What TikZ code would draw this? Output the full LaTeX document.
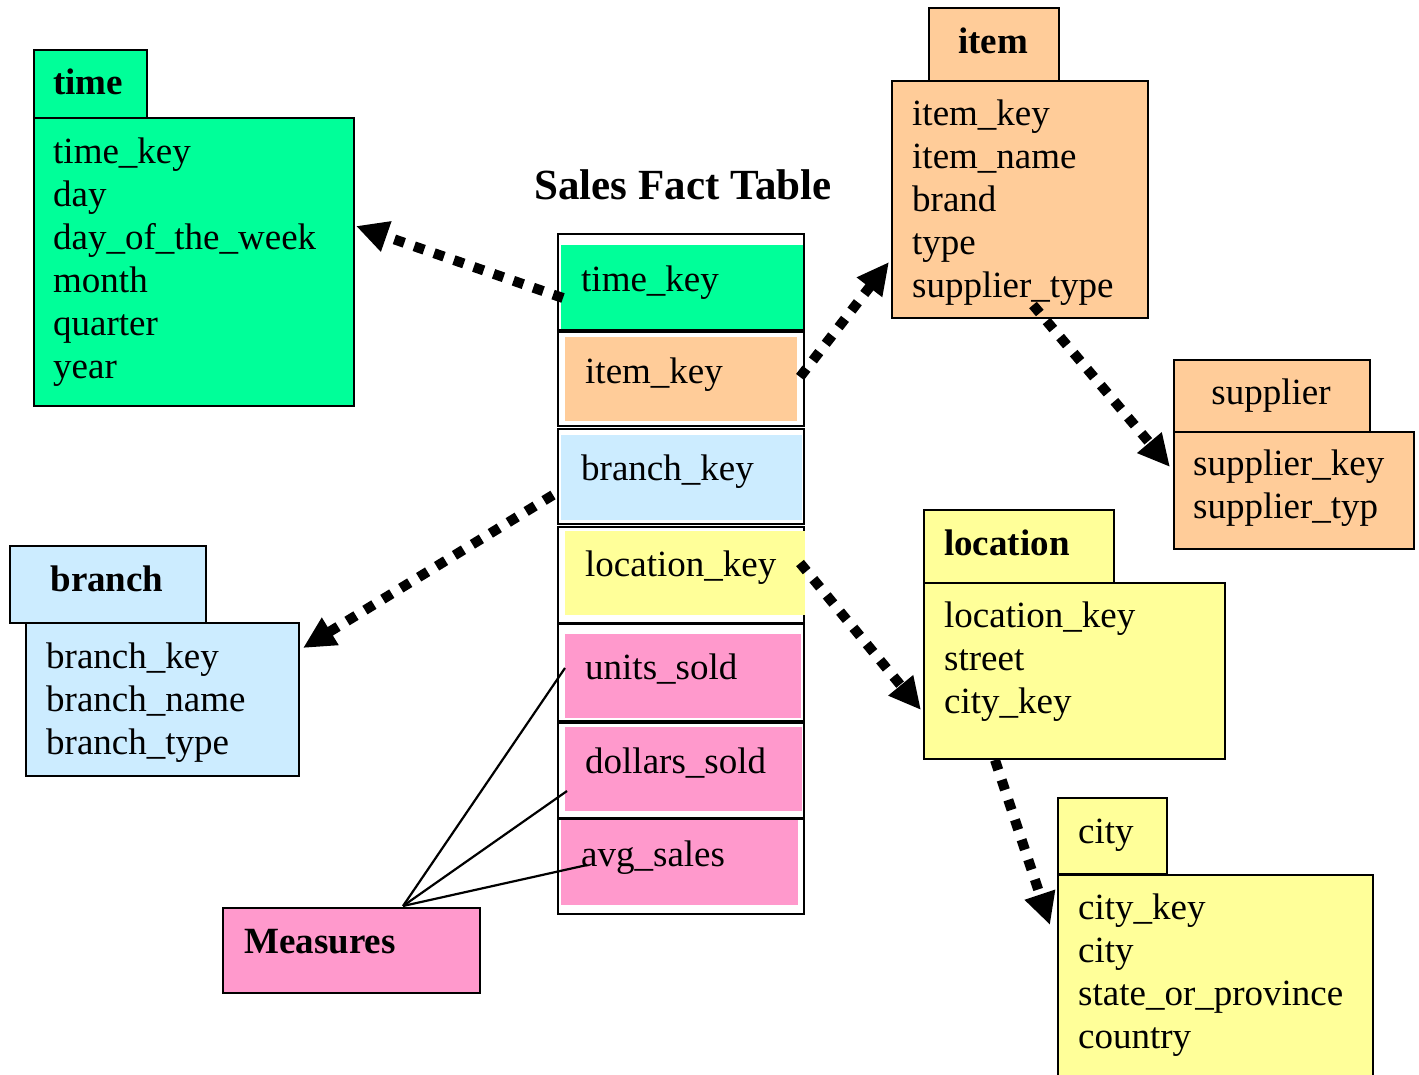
\documentclass[tikz,border=0pt]{standalone}
\usepackage{fontspec}
\setmainfont{Liberation Serif}
\usetikzlibrary{arrows.meta}
\definecolor{cgreen}{HTML}{00FF99}
\definecolor{corange}{HTML}{FFCC99}
\definecolor{cblue}{HTML}{CCECFF}
\definecolor{cyellow}{HTML}{FFFF99}
\definecolor{cpink}{HTML}{FF99CC}
\begin{document}
\begin{tikzpicture}[x=1pt,y=-1pt,
  box/.style={draw=black, line width=1.8pt, anchor=north west, inner sep=0pt},
  cellfill/.style={draw=none, anchor=north west, inner sep=0pt},
  txt/.style={anchor=base west, inner sep=0pt, font=\fontsize{37}{43}\selectfont},
  ttl/.style={anchor=base west, inner sep=0pt, font=\fontsize{37}{43}\selectfont\bfseries},
  fk/.style={line width=10pt, dash pattern=on 10.5pt off 10.5pt, -{Triangle[length=32pt,width=30pt]}},
  meas/.style={line width=2.2pt}]
\useasboundingbox (0,0) rectangle (1419,1074);
\begin{scope}
\clip (0,0) rectangle (1419,1074);

% ---------- time ----------
\node[box, fill=cgreen, minimum width=113pt, minimum height=68pt] (timeT) at (33,49) {};
\node[box, fill=cgreen, minimum width=320pt, minimum height=288pt] (timeB) at (33,117) {};
\node[ttl] (timeTt) at (53,94) {time};
\foreach \t [count=\i] in {time\_key, day, day\_of\_the\_week, month, quarter, year}
  \node[txt] (timeL\i) at (53,{163+43*(\i-1)}) {\t};

% ---------- item ----------
\node[box, fill=corange, minimum width=130pt, minimum height=74pt] (itemT) at (928,7) {};
\node[box, fill=corange, minimum width=256pt, minimum height=237pt] (itemB) at (891,80) {};
\node[ttl, anchor=base] (itemTt) at (993,53) {item};
\foreach \t [count=\i] in {item\_key, item\_name, brand, type, supplier\_type}
  \node[txt] (itemL\i) at (912,{125+43*(\i-1)}) {\t};

% ---------- supplier ----------
\node[box, fill=corange, minimum width=196pt, minimum height=73pt] (supT) at (1173,359) {};
\node[box, fill=corange, minimum width=240pt, minimum height=117pt] (supB) at (1173,431) {};
\node[txt, anchor=base] (supTt) at (1271,404) {supplier};
\foreach \t [count=\i] in {supplier\_key, supplier\_typ}
  \node[txt] (supL\i) at (1193,{475+43*(\i-1)}) {\t};

% ---------- location ----------
\node[box, fill=cyellow, minimum width=190pt, minimum height=73pt] (locT) at (923,509) {};
\node[box, fill=cyellow, minimum width=301pt, minimum height=176pt] (locB) at (923,582) {};
\node[ttl] (locTt) at (944,555) {location};
\foreach \t [count=\i] in {location\_key, street, city\_key}
  \node[txt] (locL\i) at (944,{627+43*(\i-1)}) {\t};

% ---------- city ----------
\node[box, fill=cyellow, minimum width=109pt, minimum height=76pt] (cityT) at (1057,797) {};
\node[box, fill=cyellow, minimum width=315pt, minimum height=220pt] (cityB) at (1057,874) {};
\node[txt] (cityTt) at (1078,843) {city};
\foreach \t [count=\i] in {city\_key, city, state\_or\_province, country}
  \node[txt] (cityL\i) at (1078,{919+43*(\i-1)}) {\t};

% ---------- branch ----------
\node[box, fill=cblue, minimum width=196pt, minimum height=77pt] (brT) at (9,545) {};
\node[box, fill=cblue, minimum width=273pt, minimum height=153pt] (brB) at (25,622) {};
\node[ttl, anchor=base] (brTt) at (107,591) {branch};
\foreach \t [count=\i] in {branch\_key, branch\_name, branch\_type}
  \node[txt] (brL\i) at (46,{668+43*(\i-1)}) {\t};

% ---------- measures ----------
\node[box, fill=cpink, minimum width=257pt, minimum height=85pt] (meas) at (222,907) {};
\node[ttl] (measT) at (244,953) {Measures};

% ---------- fact table ----------
\node[anchor=base, inner sep=0pt, font=\fontsize{43}{49}\selectfont\bfseries] (factT) at (683,199) {Sales Fact Table};
\node[box, fill=white, minimum width=246pt, minimum height=96pt] (c1) at (557,233) {};
\node[box, fill=white, minimum width=246pt, minimum height=94pt] (c2) at (557,331) {};
\node[box, fill=white, minimum width=246pt, minimum height=95pt] (c3) at (557,428) {};
\node[box, fill=white, minimum width=246pt, minimum height=96pt] (c4) at (557,526) {};
\node[box, fill=white, minimum width=246pt, minimum height=97pt] (c5) at (557,623) {};
\node[box, fill=white, minimum width=246pt, minimum height=95pt] (c6) at (557,722) {};
\node[box, fill=white, minimum width=246pt, minimum height=95pt] (c7) at (557,818) {};
\node[cellfill, fill=cgreen, minimum width=242pt, minimum height=84pt] (f1) at (561,245) {};
\node[cellfill, fill=corange, minimum width=232pt, minimum height=84pt] (f2) at (565,337) {};
\node[cellfill, fill=cblue, minimum width=241pt, minimum height=85pt] (f3) at (561,435) {};
\node[cellfill, fill=cyellow, minimum width=240pt, minimum height=84pt] (f4) at (565,531) {};
\node[cellfill, fill=cpink, minimum width=236pt, minimum height=84pt] (f5) at (565,634) {};
\node[cellfill, fill=cpink, minimum width=237pt, minimum height=84pt] (f6) at (565,727) {};
\node[cellfill, fill=cpink, minimum width=237pt, minimum height=85pt] (f7) at (561,820) {};
\node[txt] (k1) at (581,291) {time\_key};
\node[txt] (k2) at (585,383) {item\_key};
\node[txt] (k3) at (581,480) {branch\_key};
\node[txt] (k4) at (585,576) {location\_key};
\node[txt] (k5) at (585,679) {units\_sold};
\node[txt] (k6) at (585,773) {dollars\_sold};
\node[txt] (k7) at (581,866) {avg\_sales};

% ---------- connector end points ----------
\coordinate (aTs) at (563,298);  \coordinate (aTe) at (356,226);
\coordinate (aIs) at (800,377);  \coordinate (aIe) at (889,262);
\coordinate (aSs) at (1033,305); \coordinate (aSe) at (1170,467);
\coordinate (aBs) at (553,495);  \coordinate (aBe) at (303,648);
\coordinate (aLs) at (800,563);  \coordinate (aLe) at (921,710);
\coordinate (aCs) at (995,760);  \coordinate (aCe) at (1050,925);
\coordinate (mTop) at (403,906);
\coordinate (mU) at (565,668);
\coordinate (mD) at (567,791);
\coordinate (mA) at (587,865);

\draw[fk] (aTs) -- (aTe);
\draw[fk] (aIs) -- (aIe);
\draw[fk] (aSs) -- (aSe);
\draw[fk] (aBs) -- (aBe);
\draw[fk] (aLs) -- (aLe);
\draw[fk] (aCs) -- (aCe);

\draw[meas] (mTop) -- (mU);
\draw[meas] (mTop) -- (mD);
\draw[meas] (mTop) -- (mA);
\end{scope}
\end{tikzpicture}
\end{document}
